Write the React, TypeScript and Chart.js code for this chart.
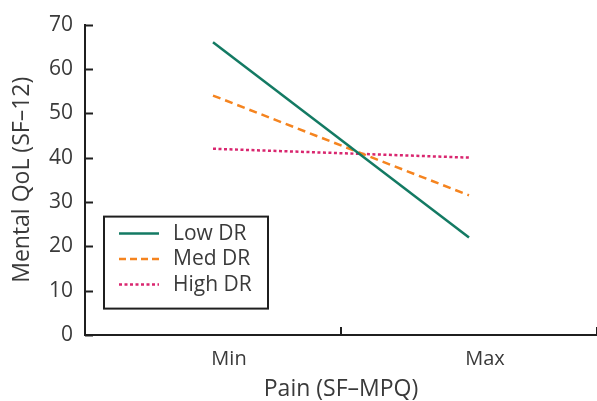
import React, { useEffect, useRef } from "react";
import { Chart, registerables } from "chart.js";

Chart.register(...registerables);

// Pain level categories and the mental QoL estimate per DR group
const painLevels = ["Min", "Max"];
const lowDR = [66, 22];
const medDR = [54, 31.5];
const highDR = [42, 40];

const yTicks = [0, 10, 20, 30, 40, 50, 60, 70];
const xTickMarks = [2, 4];

const TEXT = "#3a3a3a";
const AXIS = "#1f1f1f";
const FONT = "'Open Sans', 'Noto Sans', sans-serif";

// categories sit at x = 1, 3 on a 0..4 linear axis
const toPoints = (vals: number[]) => vals.map((v, i) => ({ x: 1 + i * 2, y: v }));

const innerTicks = {
  id: "innerTicks",
  afterDraw(chart: any) {
    const { ctx, chartArea, scales } = chart;
    const x = scales.x;
    const y = scales.y;
    ctx.save();
    ctx.strokeStyle = AXIS;
    ctx.lineWidth = 2;
    yTicks.forEach((v) => {
      const py = Math.round(y.getPixelForValue(v)) + 0.5;
      ctx.beginPath();
      ctx.moveTo(chartArea.left, py);
      ctx.lineTo(chartArea.left + 8, py);
      ctx.stroke();
    });
    xTickMarks.forEach((v) => {
      const px = Math.round(x.getPixelForValue(v));
      ctx.beginPath();
      ctx.moveTo(px, chartArea.bottom);
      ctx.lineTo(px, chartArea.bottom - 8);
      ctx.stroke();
    });
    ctx.restore();
  },
};

const boxLegend = {
  id: "boxLegend",
  afterDraw(chart: any) {
    const { ctx, chartArea } = chart;
    const left = chartArea.left + 19;
    const top = chartArea.top + 192;
    const w = 164;
    const h = 92;
    ctx.save();
    ctx.fillStyle = "#ffffff";
    ctx.fillRect(left, top, w, h);
    ctx.strokeStyle = AXIS;
    ctx.lineWidth = 2;
    ctx.strokeRect(left, top, w, h);
    ctx.font = `21px ${FONT}`;
    ctx.textBaseline = "middle";
    chart.data.datasets.forEach((ds: any, i: number) => {
      const cy = top + 17 + i * 25.5;
      ctx.strokeStyle = ds.borderColor;
      ctx.lineWidth = ds.borderWidth;
      ctx.setLineDash(ds.legendDash || ds.borderDash || []);
      ctx.beginPath();
      ctx.moveTo(left + 15, cy);
      ctx.lineTo(left + 55, cy);
      ctx.stroke();
      ctx.setLineDash([]);
      ctx.fillStyle = TEXT;
      ctx.fillText(ds.label, left + 69, cy);
    });
    ctx.restore();
  },
};

export default function App() {
  const ref = useRef<HTMLCanvasElement>(null);

  useEffect(() => {
    if (!ref.current) return;
    const chart = new Chart(ref.current, {
      type: "line",
      data: {
        datasets: [
          {
            label: "Low DR",
            data: toPoints(lowDR),
            borderColor: "#137a63",
            borderWidth: 2.5,
            pointRadius: 0,
          },
          {
            label: "Med DR",
            data: toPoints(medDR),
            borderColor: "#f5841f",
            borderWidth: 2.5,
            borderDash: [8, 5],
            legendDash: [7, 4],
            pointRadius: 0,
          } as any,
          {
            label: "High DR",
            data: toPoints(highDR),
            borderColor: "#d9266f",
            borderWidth: 2.5,
            borderDash: [3, 2.5],
            pointRadius: 0,
          },
        ],
      },
      options: {
        responsive: false,
        animation: false,
        layout: { padding: { top: 19, right: 0, left: 0, bottom: 0 } },
        plugins: {
          legend: { display: false },
          tooltip: { enabled: false },
        },
        scales: {
          x: {
            type: "linear",
            min: 0,
            max: 4,
            afterBuildTicks: (scale: any) => {
              scale.ticks = painLevels.map((_, i) => ({ value: 1 + i * 2 }));
            },
            afterFit: (scale: any) => {
              scale.height = 66;
            },
            ticks: {
              color: TEXT,
              font: { family: FONT, size: 20 },
              padding: 12,
              labelOffset: 16,
              maxRotation: 0,
              callback: (v: any) => painLevels[(Number(v) - 1) / 2] ?? "",
            },
            grid: { display: false, drawTicks: false },
            border: { display: true, color: AXIS, width: 2 },
            title: {
              display: true,
              text: "Pain (SF–MPQ)",
              color: TEXT,
              font: { family: FONT, size: 23, lineHeight: 1 },
              padding: { top: 0, bottom: 0 },
            },
          },
          y: {
            min: 0,
            max: 70,
            afterBuildTicks: (scale: any) => {
              scale.ticks = yTicks.map((v) => ({ value: v }));
            },
            afterFit: (scale: any) => {
              scale.width = 85;
            },
            ticks: {
              color: TEXT,
              font: { family: FONT, size: 21 },
              padding: 12,
            },
            grid: { display: false, drawTicks: false },
            border: { display: true, color: AXIS, width: 2 },
            title: {
              display: true,
              text: "Mental QoL (SF–12)",
              color: TEXT,
              font: { family: FONT, size: 23, lineHeight: 1 },
              padding: { top: 11, bottom: 0 },
            },
          },
        },
      },
      plugins: [innerTicks, boxLegend],
    });
    return () => chart.destroy();
  }, []);

  return (
    <div style={{ position: "absolute", left: 0, top: 0, width: 597, height: 401, background: "#fff" }}>
      <canvas ref={ref} width={597} height={401} />
    </div>
  );
}
